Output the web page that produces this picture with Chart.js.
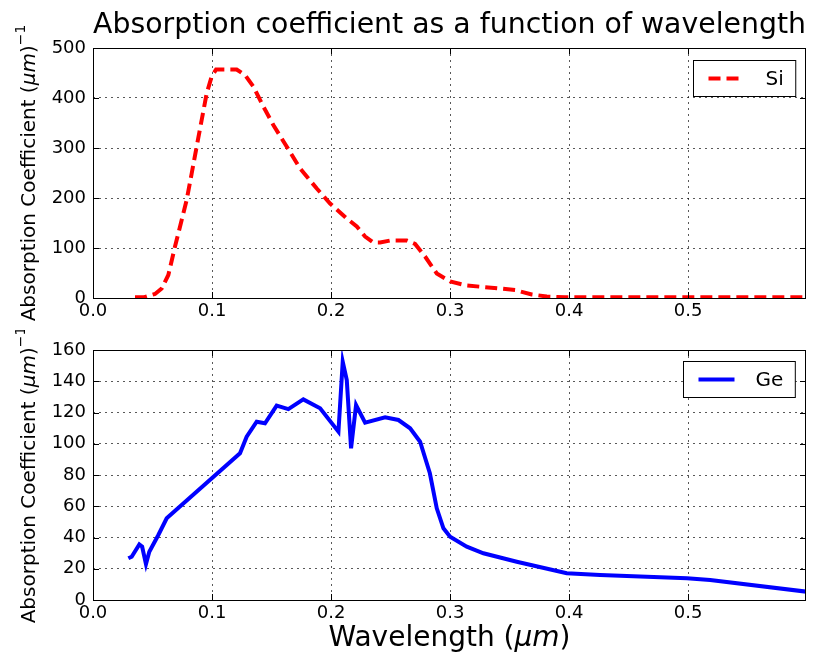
<!DOCTYPE html>
<html>
<head>
<meta charset="utf-8">
<script src="https://cdn.jsdelivr.net/npm/chart.js@4.4.1/dist/chart.umd.min.js"></script>
<style>
  body { margin: 0; background: #fff; }
  #wrap { position: relative; width: 816px; height: 658px; }
  canvas { position: absolute; left: 0; }
</style>
</head>
<body>
<div id="wrap">
  <canvas id="siChart" width="816" height="330" style="top:0"></canvas>
  <canvas id="geChart" width="816" height="328" style="top:330px"></canvas>
</div>
<script>
// values
const siWavelength = [0.0353, 0.0423, 0.0521, 0.0577, 0.0633, 0.0689, 0.0745, 0.0787, 0.0829, 0.0871,
  0.0913, 0.0955, 0.0997, 0.1034, 0.1207, 0.1277, 0.1347, 0.1431, 0.1515, 0.1627, 0.174, 0.188,
  0.1992, 0.2132, 0.2216, 0.2286, 0.2356, 0.2412, 0.2496, 0.2636, 0.2706, 0.279, 0.2888, 0.300,
  0.314, 0.342, 0.3546, 0.3686, 0.3812, 0.3966, 0.45, 0.50, 0.55, 0.597];
const siAbsorption = [1.3, 1.3, 8, 19, 46, 103, 156, 196, 249, 303,
  356, 409, 443, 457, 457, 446, 423, 383, 346, 303, 259, 219,
  189, 159, 143, 123, 111, 111, 115, 115, 108, 83, 49, 33,
  25, 19, 16, 7, 3, 1.5, 1.5, 1.5, 1.5, 1.5];

const geWavelength = [0.0297, 0.0325, 0.0389, 0.0413, 0.0445, 0.0473, 0.0549, 0.0619, 0.1235, 0.1291,
  0.1375, 0.1445, 0.1543, 0.1641, 0.1767, 0.1908, 0.2062, 0.2098, 0.2132, 0.2168, 0.221, 0.2286,
  0.2454, 0.2566, 0.2664, 0.2748, 0.283, 0.2888, 0.2944, 0.300, 0.314, 0.328, 0.356, 0.398,
  0.426, 0.499, 0.5185, 0.5997];
const geAbsorption = [26.7, 27.7, 35.6, 34.1, 23, 30.9, 41.6, 52.3, 93.9, 104.5,
  114.1, 113.1, 124.4, 122.2, 128.4, 122.7, 107.7, 152.5, 140.8, 97.1, 124.8, 113.5,
  116.9, 115.2, 109.9, 101.3, 81.1, 58.7, 45.9, 40.5, 34.1, 29.9, 24.5, 17.1,
  16.0, 13.9, 12.8, 5.3];

const xTickValues = [0, 0.1, 0.2, 0.3, 0.4, 0.5];
const siTickValues = [0, 100, 200, 300, 400, 500];
const geTickValues = [0, 20, 40, 60, 80, 100, 120, 140, 160];
const xMax = 0.599;

const FONT = 'DejaVu Sans';
const yTitleRuns = [
  { text: 'Absorption Coefficient (' },
  { text: '\u03bcm', italic: true },
  { text: ')' },
  { text: '\u22121', sup: true }
];
const xTitleRuns = [
  { text: 'Wavelength (' },
  { text: '\u03bcm', italic: true },
  { text: ')' }
];

function toPoints(xs, ys) {
  return xs.map((x, i) => ({ x: x, y: ys[i] }));
}

// draws text pieces in a row, centred on the current origin
function drawRuns(ctx, runs, size) {
  const fonts = runs.map(r => (r.italic ? 'italic ' : '') + (r.sup ? size * 0.7 : size) + 'px "' + FONT + '"');
  let w = 0;
  runs.forEach((r, i) => { ctx.font = fonts[i]; w += ctx.measureText(r.text).width; });
  let x = -w / 2;
  runs.forEach((r, i) => {
    ctx.font = fonts[i];
    ctx.fillText(r.text, x, r.sup ? -size * 0.48 : 0);
    x += ctx.measureText(r.text).width;
  });
}

const framePlugin = {
  id: 'frame',
  afterDraw(chart) {
    const { ctx, chartArea: a, scales } = chart;
    ctx.save();
    ctx.strokeStyle = '#000';
    ctx.lineWidth = 1;
    ctx.strokeRect(Math.round(a.left) + 0.5, Math.round(a.top) + 0.5,
      Math.round(a.right - a.left) - 1, Math.round(a.bottom - a.top));
    ctx.beginPath();
    scales.x.ticks.forEach(t => {
      const px = Math.round(scales.x.getPixelForValue(t.value)) + 0.5;
      ctx.moveTo(px, a.bottom); ctx.lineTo(px, a.bottom - 6);
      ctx.moveTo(px, a.top); ctx.lineTo(px, a.top + 6);
    });
    scales.y.ticks.forEach(t => {
      const py = Math.round(scales.y.getPixelForValue(t.value)) + 0.5;
      ctx.moveTo(a.left, py); ctx.lineTo(a.left + 6, py);
      ctx.moveTo(a.right, py); ctx.lineTo(a.right - 6, py);
    });
    ctx.stroke();
    ctx.restore();
  }
};

const boxLegendPlugin = {
  id: 'boxLegend',
  afterDraw(chart, args, opts) {
    const { ctx, chartArea: a } = chart;
    const ds = chart.data.datasets[0];
    ctx.save();
    ctx.font = '20px "' + FONT + '"';
    const tw = ctx.measureText(ds.label).width;
    const w = 15 + 36 + 21 + tw + 12;
    const h = 36;
    const left = Math.round(a.right - 11 - w) + 0.5;
    const top = Math.round(a.top + opts.top) + 0.5;
    ctx.fillStyle = '#fff';
    ctx.fillRect(left, top, w, h);
    ctx.strokeStyle = '#000';
    ctx.lineWidth = 1;
    ctx.strokeRect(left, top, w, h);
    ctx.beginPath();
    ctx.setLineDash(ds.borderDash || []);
    ctx.strokeStyle = ds.borderColor;
    ctx.lineWidth = ds.borderWidth;
    ctx.moveTo(left + 15, top + h / 2);
    ctx.lineTo(left + 51, top + h / 2);
    ctx.stroke();
    ctx.setLineDash([]);
    ctx.fillStyle = '#000';
    ctx.textBaseline = 'middle';
    ctx.fillText(ds.label, left + 72, top + h / 2 + 1);
    ctx.restore();
  }
};

const axisTextPlugin = {
  id: 'axisText',
  afterDraw(chart, args, opts) {
    const { ctx, chartArea: a } = chart;
    ctx.save();
    ctx.fillStyle = '#000';
    ctx.textBaseline = 'alphabetic';
    ctx.translate(35, (a.top + a.bottom) / 2);
    ctx.rotate(-Math.PI / 2);
    drawRuns(ctx, yTitleRuns, 20);
    ctx.restore();
    if (opts.xTitle) {
      ctx.save();
      ctx.fillStyle = '#000';
      ctx.textBaseline = 'alphabetic';
      ctx.translate((a.left + a.right) / 2, opts.xTitleY);
      drawRuns(ctx, xTitleRuns, 28);
      ctx.restore();
    }
  }
};

const tickFont = { family: FONT, size: 18 };
const gridColor = 'rgba(0,0,0,0.65)';

function makeScales(yTicks, yMax, xHeight) {
  return {
    x: {
      type: 'linear', min: 0, max: xMax,
      afterBuildTicks: s => { s.ticks = xTickValues.map(v => ({ value: v })); },
      afterFit: s => { s.height = xHeight; },
      grid: { color: gridColor, lineWidth: 1, drawTicks: false },
      border: { display: false, dash: [2, 4] },
      ticks: { color: '#000', font: tickFont, padding: 3, maxRotation: 0, autoSkip: false,
        callback: v => v.toFixed(1) }
    },
    y: {
      type: 'linear', min: 0, max: yMax,
      afterBuildTicks: s => { s.ticks = yTicks.map(v => ({ value: v })); },
      afterFit: s => { s.width = 93; },
      grid: { color: gridColor, lineWidth: 1, drawTicks: false },
      border: { display: false, dash: [2, 4] },
      ticks: { color: '#000', font: tickFont, padding: 7, autoSkip: false }
    }
  };
}

new Chart(document.getElementById('siChart'), {
  type: 'line',
  data: {
    datasets: [{
      label: 'Si',
      data: toPoints(siWavelength, siAbsorption),
      borderColor: '#ff0000',
      borderWidth: 4,
      borderDash: [12, 6],
      borderCapStyle: 'butt',
      pointRadius: 0,
      tension: 0,
      fill: false
    }]
  },
  options: {
    responsive: false,
    animation: false,
    devicePixelRatio: 1,
    layout: { padding: { top: 0, right: 10, left: 0, bottom: 0 } },
    scales: makeScales(siTickValues, 500, 32),
    plugins: {
      legend: { display: false },
      tooltip: { enabled: false },
      title: {
        display: true,
        fullSize: false,
        text: 'Absorption coefficient as a function of wavelength',
        color: '#000',
        font: { family: FONT, size: 28.5, weight: 'normal' },
        padding: { top: 8, bottom: 5.8 }
      },
      boxLegend: { top: 12 },
      axisText: { xTitle: false }
    }
  },
  plugins: [framePlugin, boxLegendPlugin, axisTextPlugin]
});

new Chart(document.getElementById('geChart'), {
  type: 'line',
  data: {
    datasets: [{
      label: 'Ge',
      data: toPoints(geWavelength, geAbsorption),
      borderColor: '#0000ff',
      borderWidth: 4,
      pointRadius: 0,
      tension: 0,
      fill: false
    }]
  },
  options: {
    responsive: false,
    animation: false,
    devicePixelRatio: 1,
    layout: { padding: { top: 20, right: 10, left: 0, bottom: 0 } },
    scales: makeScales(geTickValues, 160, 58),
    plugins: {
      legend: { display: false },
      tooltip: { enabled: false },
      boxLegend: { top: 11 },
      axisText: { xTitle: true, xTitleY: 316 }
    }
  },
  plugins: [framePlugin, boxLegendPlugin, axisTextPlugin]
});
</script>
</body>
</html>
